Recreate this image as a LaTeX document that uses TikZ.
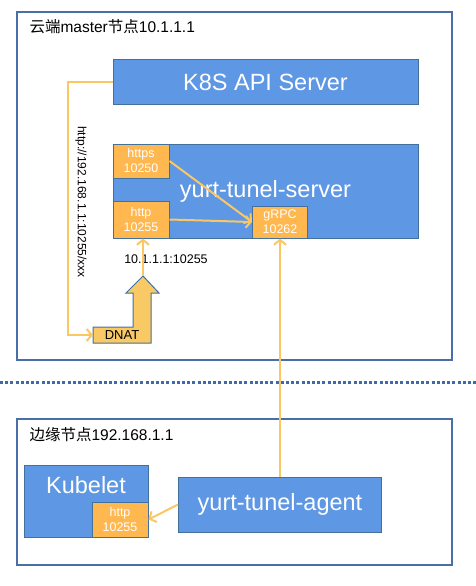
\documentclass[tikz,border=0pt]{standalone}
\usepackage{fontspec}
\setmainfont{Liberation Sans}
\newfontfamily\cjk{Noto Sans CJK SC}
\usetikzlibrary{arrows.meta,positioning,calc}
\definecolor{boxblue}{HTML}{5E97E4}
\definecolor{edgeblue}{HTML}{41719C}
\definecolor{frameblue}{HTML}{4A6FA8}
\definecolor{dotblue}{HTML}{3D6AAE}
\definecolor{portorange}{HTML}{FFB74F}
\definecolor{linkorange}{HTML}{FAC763}
\definecolor{dnatfill}{HTML}{F8C965}

\begin{document}
\begin{tikzpicture}[x=1pt,y=-1pt,
  frame/.style={draw=frameblue,line width=1.2pt},
  block/.style={draw=edgeblue,fill=boxblue,line width=1pt,text=white,inner sep=0pt,
                font=\fontsize{23.5}{26}\selectfont},
  portbox/.style={draw=edgeblue,fill=portorange,line width=1pt,text=white,inner sep=0pt,
                  align=center,font=\fontsize{12.5}{15}\selectfont},
  link/.style={draw=linkorange,line width=2pt,-{Straight Barb[length=5pt,width=12pt]}}]
  \useasboundingbox (0,0) rectangle (476,586);

  % cloud side
  \draw[frame] (17,12) rectangle (452,360);
  \node[anchor=west,font=\fontsize{15.5}{18}\selectfont] (mastertitle) at (26,27)
       {{\cjk 云端}master{\cjk 节点}10.1.1.1};
  \node[block,minimum width=305,minimum height=44] (api) at (265.5,82) {K8S API Server};
  \node[block,minimum width=305,minimum height=94] (server) at (265.5,191) {yurt-tunel-server};
  \node[portbox,minimum width=56,minimum height=34] (https) at (141,161) {https\\10250};
  \node[portbox,minimum width=56,minimum height=37] (http) at (141,219.5) {http\\10255};
  \node[portbox,minimum width=55,minimum height=32] (grpc) at (280,222) {gRPC\\10262};

  % DNAT block arrow
  \draw[draw=edgeblue,fill=dnatfill,line width=1pt]
    (93,327) -- (133,327) -- (133,293) -- (126,293) -- (143,276) -- (159,293)
    -- (151,293) -- (151,343) -- (93,343) -- cycle;
  \node[font=\fontsize{13}{15}\selectfont] (dnat) at (122,335) {DNAT};
  \coordinate (dnatin) at (93,335);
  \coordinate (dnattip) at (143,276);
  \node[font=\fontsize{12.5}{15}\selectfont] (dstlabel) at (166,259) {10.1.1.1:10255};
  \node[rotate=-90,font=\fontsize{12}{14}\selectfont] (urllabel) at (81,202)
       {http://192.168.1.1:10255/xxx};

  \draw[link] (api.west) -- ++(-45,0) |- (dnatin);
  \draw[link] (dnattip) -- (dnattip |- http.south);
  \draw[link] (https.east) -- (grpc.west);
  \draw[link] (http.east) -- (grpc.west);

  % divider
  \draw[dotblue,line width=3pt,dash pattern=on 3pt off 2.2pt] (0,382) -- (476,382);

  % edge side
  \draw[frame] (17,419) rectangle (452,565);
  \node[anchor=west,font=\fontsize{15.5}{18}\selectfont] (edgetitle) at (26,435)
       {{\cjk 边缘节点}192.168.1.1};
  \node[block,minimum width=124,minimum height=72] (kubelet) at (86,501) {};
  \node[text=white,font=\fontsize{23.5}{26}\selectfont] (kubeletlabel) at (86,485) {Kubelet};
  \node[portbox,minimum width=56,minimum height=35] (khttp) at (120,519.5) {http\\10255};
  \node[block,minimum width=203,minimum height=55] (agent) at (280,504.5) {yurt-tunel-agent};

  \draw[link] (agent.north) -- (grpc.south);
  \draw[link] (agent.west) -- (khttp.east);
\end{tikzpicture}
\end{document}
